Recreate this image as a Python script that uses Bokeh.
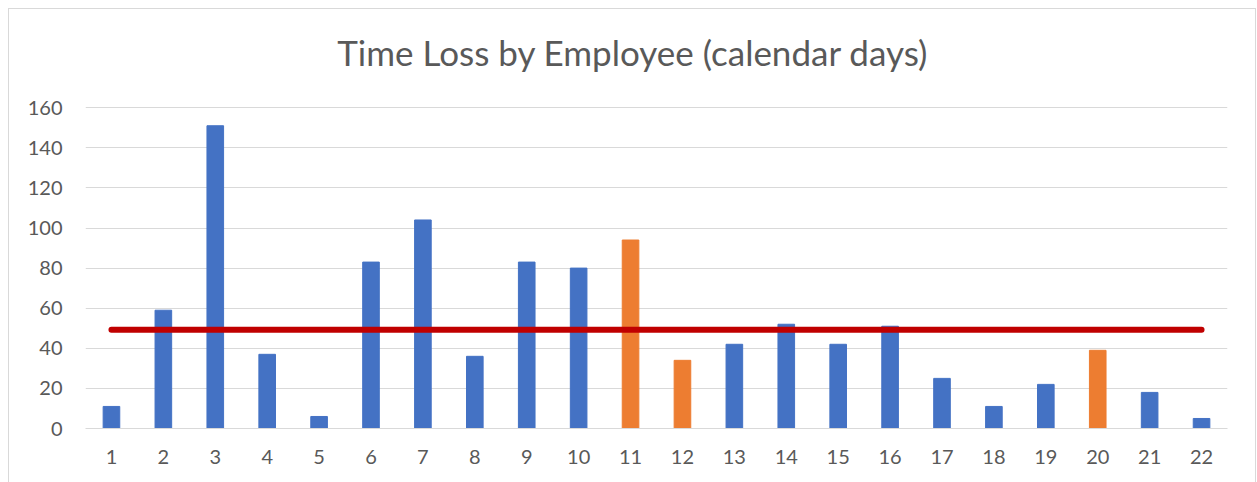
from bokeh.plotting import figure
from bokeh.models import ColumnDataSource, FactorRange, Range1d, Label, FixedTicker
from bokeh.embed import file_html
from bokeh.resources import INLINE

title_text = "Time Loss by Employee (calendar days)"
employees = ["1", "2", "3", "4", "5", "6", "7", "8", "9", "10", "11",
             "12", "13", "14", "15", "16", "17", "18", "19", "20", "21", "22"]
days_lost = [11, 59, 151, 37, 6, 83, 104, 36, 83, 80, 94,
             34, 42, 52, 42, 51, 25, 11, 22, 39, 18, 5]
highlighted = ["11", "12", "20"]
average_days = 49.3
y_ticks = [0, 20, 40, 60, 80, 100, 120, 140, 160]

BLUE = "#4472C4"
ORANGE = "#ED7D31"
RED = "#C00000"
GRID = "#D9D9D9"
TEXT = "#595959"
FONT = "Lato"

colors = [ORANGE if e in highlighted else BLUE for e in employees]
src = ColumnDataSource(dict(x=employees, top=days_lost, color=colors))

# frame extends above the 160 gridline to hold the title (no outline drawn)
p = figure(x_range=FactorRange(factors=employees), y_range=Range1d(0, 200),
           width=1248, height=474, output_backend="svg", toolbar_location=None,
           title=None, min_border_left=76, min_border_right=30,
           min_border_top=18, min_border_bottom=55)
p.margin = (8, 0, 0, 8)
p.styles = {"border-left": "1px solid #D9D9D9", "border-top": "1px solid #D9D9D9",
            "border-right": "1px solid #D9D9D9"}
p.outline_line_color = None
p.background_fill_color = "white"
p.border_fill_color = "white"

p.vbar(x="x", top="top", width=0.32, color="color", source=src)

avg_src = ColumnDataSource(dict(x=[employees[0], employees[-1]],
                                y=[average_days, average_days]))
p.line(x="x", y="y", source=avg_src, line_color=RED, line_width=6,
       line_cap="round")

p.xgrid.grid_line_color = None
p.ygrid.grid_line_color = GRID
p.ygrid.grid_line_width = 1
p.yaxis.ticker = FixedTicker(ticks=y_ticks)

p.yaxis.axis_line_color = None
p.yaxis.major_tick_line_color = None
p.yaxis.minor_tick_line_color = None
p.yaxis.major_tick_out = 0
p.yaxis.major_label_standoff = 23
p.yaxis.major_label_text_font = FONT
p.yaxis.major_label_text_font_size = "20px"
p.yaxis.major_label_text_color = TEXT

p.xaxis.axis_line_color = GRID
p.xaxis.axis_line_width = 1
p.xaxis.major_tick_line_color = None
p.xaxis.minor_tick_line_color = None
p.xaxis.major_tick_out = 0
p.xaxis.major_label_standoff = 21
p.xaxis.major_label_text_font = FONT
p.xaxis.major_label_text_font_size = "20px"
p.xaxis.major_label_text_color = TEXT

title = Label(x=10.55, y=188, x_units="data", y_units="data", text=title_text,
              text_font=FONT, text_font_size="35px", text_color=TEXT,
              text_align="center", text_baseline="middle")
p.add_layout(title)

open("out.html", "w").write(file_html(p, INLINE))
